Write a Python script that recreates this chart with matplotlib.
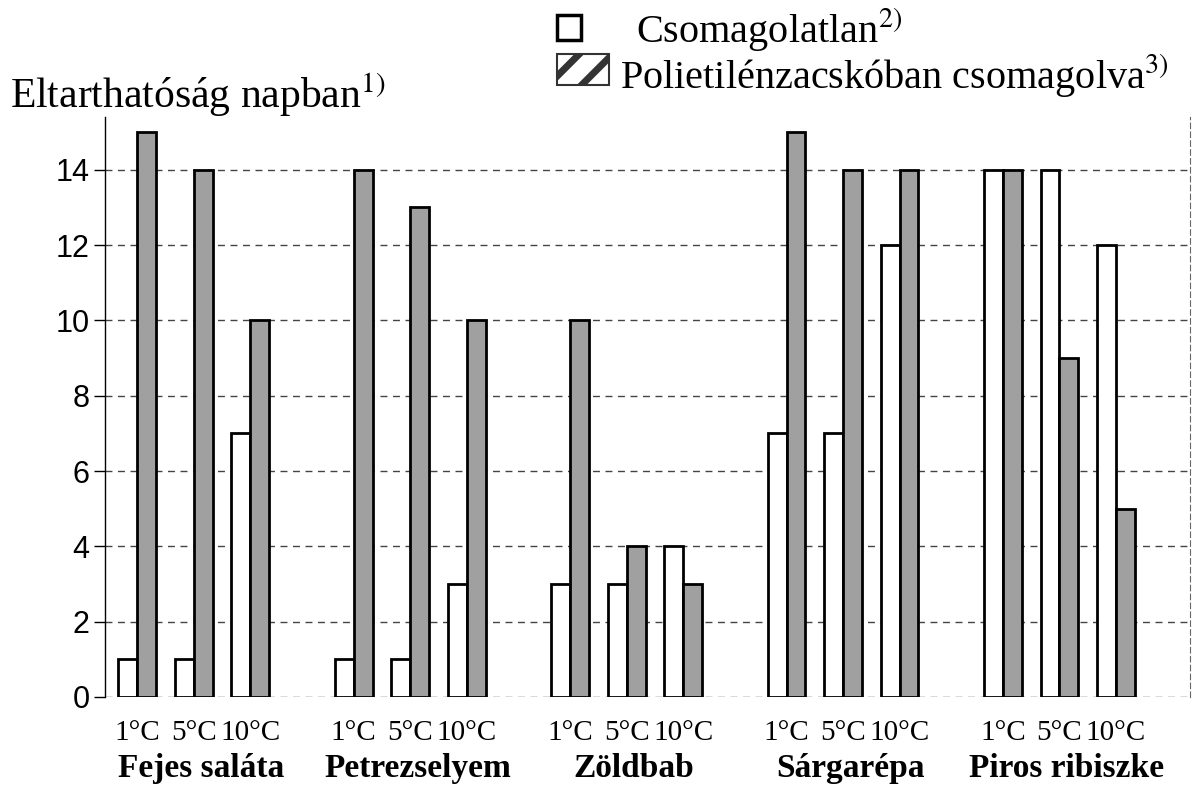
import matplotlib.pyplot as plt
from matplotlib.patches import Rectangle
import numpy as np

plt.rcParams['mathtext.fontset'] = 'stix'
plt.rcParams['hatch.linewidth'] = 5

groups = ['Fejes saláta', 'Petrezselyem', 'Zöldbab', 'Sárgarépa', 'Piros ribiszke']
temps = ['1°C', '5°C', '10°C']
unpacked = [[1, 1, 7], [1, 1, 3], [3, 3, 4], [7, 7, 12], [14, 14, 12]]
packed = [[15, 14, 10], [14, 13, 10], [10, 4, 3], [15, 14, 14], [14, 9, 5]]
yticks = [0, 2, 4, 6, 8, 10, 12, 14]

group_step = 3.83
w = 0.335
serif = 'Liberation Serif'
W, H = 1198, 787

fig = plt.figure(figsize=(W / 100, H / 100), dpi=100)
ax = fig.add_axes([105 / W, 1 - 697 / H, 1085 / W, 580 / H])

pos = []
for g in range(len(groups)):
    for t in range(len(temps)):
        pos.append(g * group_step + t)
pos = np.array(pos)
white = np.array(unpacked).ravel()
gray = np.array(packed).ravel()

ax.bar(pos - w / 2, white, w, color='white', edgecolor='black', lw=2, zorder=3)
ax.bar(pos + w / 2, gray, w, color='#a0a0a0', edgecolor='black', lw=2, zorder=3)

ax.set_xlim(-0.57, 18.63)
ax.set_ylim(0, 15.4)
ax.set_yticks(yticks)
ax.set_yticklabels([str(v) for v in yticks], fontsize=22, family='Liberation Sans')
ax.yaxis.grid(True, ls=(0, (5, 4)), color='#444444', lw=1)
ax.set_axisbelow(True)
ax.tick_params(axis='y', length=8, width=1, pad=3)
ax.set_xticks([])

for s in ['top', 'bottom']:
    ax.spines[s].set_visible(False)
ax.spines['left'].set_linewidth(1)
ax.spines['right'].set_linestyle((0, (5, 3)))
ax.spines['right'].set_color('#666666')

for p, lab in zip(pos, temps * len(groups)):
    ax.text(p, -0.6, lab, ha='center', va='top', fontsize=21, family=serif)
for g, name in enumerate(groups):
    ax.text(g * group_step + 1.13, -1.5, name, ha='center', va='top',
            fontsize=24, fontweight='bold', family=serif)

fig.text(10 / W, 1 - 108 / H, 'Eltarthatóság napban$^{1)}$', fontsize=30,
         family=serif, va='baseline')

# legend
fig.add_artist(Rectangle((557 / W, 1 - 40 / H), 24 / W, 25 / H,
                         transform=fig.transFigure, facecolor='white',
                         edgecolor='black', lw=2.5))
fig.add_artist(Rectangle((557 / W, 1 - 85 / H), 52 / W, 31 / H,
                         transform=fig.transFigure, facecolor='white',
                         edgecolor='#333333', hatch='/', lw=1.5))
fig.text(636 / W, 1 - 42 / H, 'Csomagolatlan$^{2)}$', fontsize=29,
         family=serif, va='baseline')
fig.text(620 / W, 1 - 88 / H, 'Polietilénzacskóban csomagolva$^{3)}$',
         fontsize=29, family=serif, va='baseline')

fig.savefig('out.png', dpi=100)
